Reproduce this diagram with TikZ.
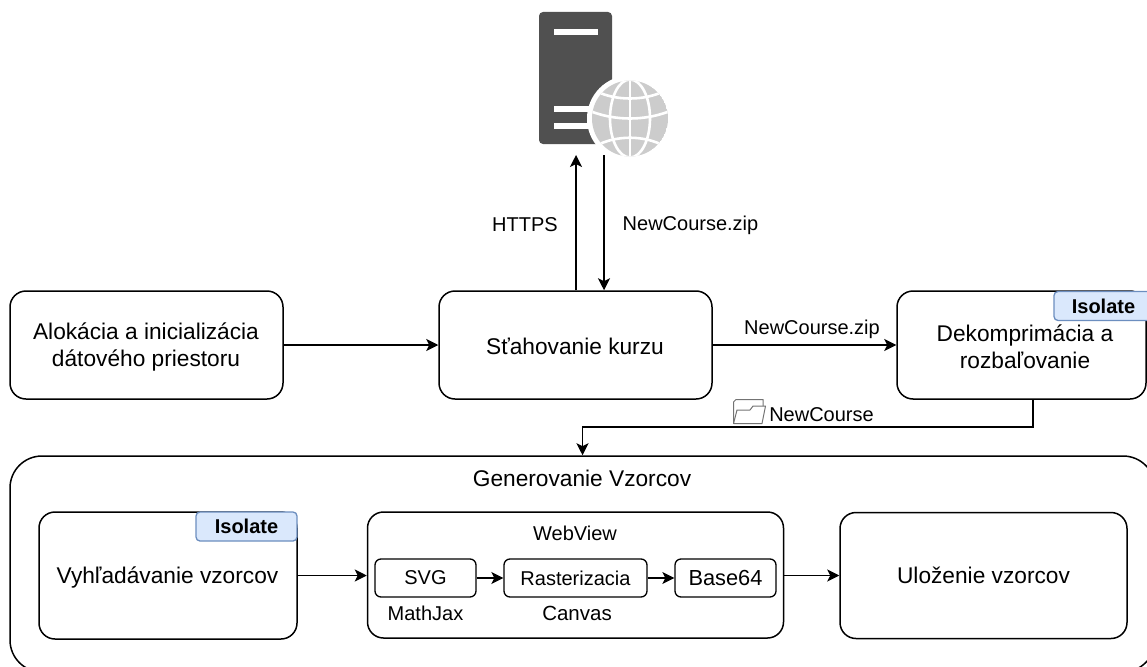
\documentclass[tikz,border=0pt]{standalone}
\usepackage{fontspec}
\setmainfont{Liberation Sans}
\usetikzlibrary{arrows.meta}
\definecolor{srv}{HTML}{505050}
\definecolor{glb}{HTML}{CCCCCC}
\definecolor{tagfill}{HTML}{DAE8FC}
\definecolor{tagline}{HTML}{6C8EBF}
\tikzset{
  every node/.style={font=\fontsize{22.7}{27}\selectfont, text=black},
  rbox/.style={draw=black, line width=1.5pt, rounded corners=16pt, fill=white, align=center, inner sep=0pt},
  sbox/.style={draw=black, line width=1.3pt, rounded corners=6pt, fill=white, align=center, inner sep=0pt},
  tag/.style={draw=tagline, line width=1.3pt, rounded corners=4pt, fill=tagfill, inner sep=0pt, font=\fontsize{20}{24}\selectfont\bfseries},
  lab/.style={inner sep=0pt, font=\fontsize{20}{24}\selectfont},
  conn/.style={line width=1.4pt, -{Stealth[length=12pt,width=12pt,inset=3pt]}},
  gridline/.style={draw=white, line width=2.6pt},
}
\begin{document}
\begin{tikzpicture}[x=1pt,y=-1pt]
\useasboundingbox (0,0) rectangle (1147,666);
% server
\fill[srv, rounded corners=4pt] (539,12) rectangle (612,144);
\fill[white] (554,29) rectangle (598,35);
\fill[white] (554,106) rectangle (598,112);
\fill[white] (554,123) rectangle (598,129);
\fill[white] (630,118.5) circle (43);
\begin{scope}
\clip (630,118.5) circle (38);
\fill[glb] (630,118.5) circle (38);
\draw[gridline] (630,80) -- (630,158);
\draw[gridline] (630,118.5) ellipse (20 and 39);
\draw[gridline] (590,111) .. controls (615,121) and (645,121) .. (670,111);
\draw[gridline] (596,91) .. controls (615,101) and (645,101) .. (664,91);
\draw[gridline] (596,146) .. controls (615,135) and (645,135) .. (664,146);
\end{scope}
% boxes
\node[rbox, minimum width=273pt, minimum height=108pt] (alloc) at (146.5,345) {};
\node[inner sep=0pt, align=center] (alloctext) at (146,347) {Alokácia a inicializácia\\dátového priestoru};
\node[rbox, minimum width=273pt, minimum height=108pt] (dl) at (575.5,345) {};
\node[inner sep=0pt] (dltext) at (575,346) {Sťahovanie kurzu};
\node[rbox, minimum width=249pt, minimum height=108pt] (unz) at (1021.5,345) {};
\node[inner sep=0pt, align=center] (unztext) at (1025,347) {Dekomprimácia a\\rozbaľovanie};
\node[tag, minimum width=99pt, minimum height=29pt] (tag1) at (1103.5,306) {Isolate};
\node[rbox, rounded corners=32pt, minimum width=1145pt, minimum height=216pt] (gen) at (582.5,564) {};
\node[inner sep=0pt] (gentitle) at (582,478) {Generovanie Vzorcov};
\node[rbox, minimum width=258pt, minimum height=127pt] (find) at (168,575.5) {};
\node[inner sep=0pt] (findtext) at (167.5,577) {Vyhľadávanie vzorcov};
\node[tag, minimum width=101pt, minimum height=29pt] (tag2) at (246.5,526.5) {Isolate};
\node[rbox, minimum width=416pt, minimum height=126pt] (web) at (575.5,575) {};
\node[lab] (webtitle) at (575,533) {WebView};
\node[sbox, minimum width=101pt, minimum height=38pt, font=\fontsize{20}{24}\selectfont] (svg) at (425.5,578) {SVG};
\node[sbox, minimum width=143pt, minimum height=38pt, font=\fontsize{20}{24}\selectfont] (rast) at (575.5,578) {Rasterizacia};
\node[sbox, minimum width=101pt, minimum height=38pt, font=\fontsize{21.8}{26}\selectfont] (b64) at (725.5,578) {Base64};
\node[lab] (mj) at (425.5,613) {MathJax};
\node[lab, font=\fontsize{20.5}{24}\selectfont] (cv) at (577,613) {Canvas};
\node[rbox, minimum width=287pt, minimum height=126pt] (save) at (983.5,575.5) {Uloženie vzorcov};
% labels
\node[lab] (https) at (525,225) {HTTPS};
\node[lab] (zip1) at (690.5,225) {NewCourse.zip};
\node[lab] (zip2) at (812,329) {NewCourse.zip};
\node[lab] (nc) at (821.5,415) {NewCourse};
% folder icon
\draw[black!55, line width=1pt, line join=round] (733.5,423.5) -- (733.5,402) -- (736,399.5) -- (763,399.5) -- (763,406);
\draw[black!55, line width=1pt, line join=round] (733.5,423.5) -- (737,410) -- (750,410) -- (753,406) -- (765.5,406) -- (762,423.5) -- cycle;
% connectors
\coordinate (srvup) at (576,155);
\coordinate (srvdn) at (604,155);
\coordinate (bend) at (1033,427);
\coordinate (bend2) at (582.5,427);
\draw[conn] (alloc.east) -- (dl.west);
\draw[conn] (dl.east) -- (unz.west);
\draw[conn] (dl.north -| srvup) -- (srvup);
\draw[conn] (srvdn) -- (dl.north -| srvdn);
\draw[conn] (unz.south -| bend) -- (bend) -- (bend2) -- (gen.north -| bend2);
\draw[conn] (find.east) -- (web.west |- find.east);
\draw[conn] (web.east |- save.west) -- (save.west);
\draw[conn] (svg.east) -- (rast.west);
\draw[conn] (rast.east) -- (b64.west);
\end{tikzpicture}
\end{document}
